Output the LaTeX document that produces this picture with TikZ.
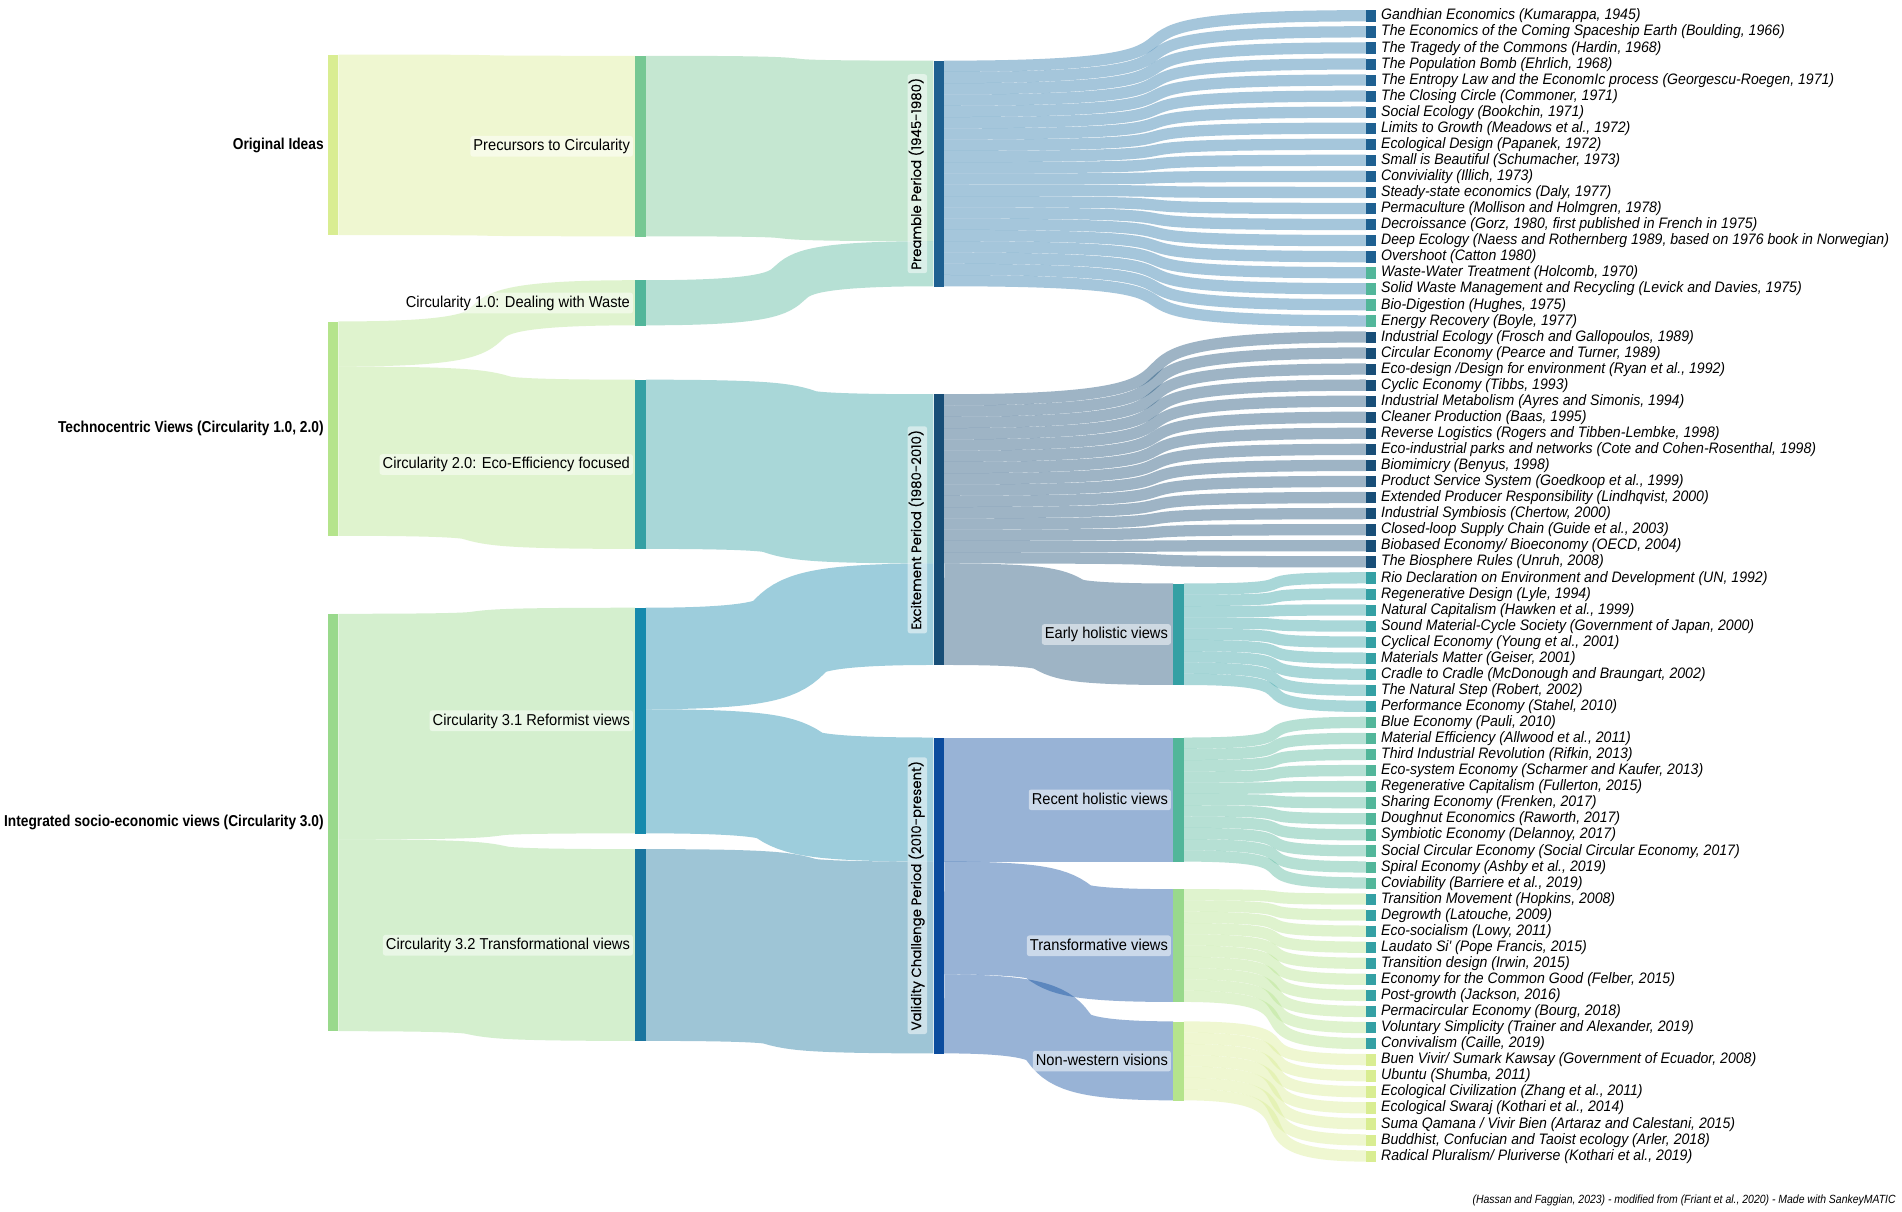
\documentclass[tikz,border=0pt]{standalone}
\usepackage{fontspec}
\setmainfont{Liberation Sans}
\newfontfamily\labfont[FakeStretch=0.93]{Liberation Sans}
\newfontfamily\boldlabfont[FakeStretch=0.87]{Liberation Sans}
\newfontfamily\itemfont[FakeStretch=0.93]{Liberation Sans}
\newfontfamily\footfont[FakeStretch=0.88]{Liberation Sans}
\newfontfamily\rotfont[FakeBold=0.25]{Poppins}
\usetikzlibrary{calc}
\pgfdeclarelayer{bg}
\pgfdeclarelayer{flows}
\pgfsetlayers{bg,flows,main}
\definecolor{cA}{HTML}{D9ED92}
\definecolor{cB}{HTML}{B5E48C}
\definecolor{cC}{HTML}{99D98C}
\definecolor{cD}{HTML}{76C893}
\definecolor{cE}{HTML}{52B69A}
\definecolor{cF}{HTML}{34A0A4}
\definecolor{cG}{HTML}{168AAD}
\definecolor{cH}{HTML}{1A759F}
\definecolor{cI}{HTML}{1E6091}
\definecolor{cJ}{HTML}{184E77}
\definecolor{cV}{HTML}{0B4C9E}
\definecolor{preflow}{HTML}{2A78AB}
\def\sku{9.3}
\tikzset{
  bar/.style={rectangle, inner sep=0pt, minimum width=8.5pt, anchor=north west, draw=none},
  flowline/.style={draw opacity=0.42},
  lab/.style={font=\labfont\fontsize{13}{15}\selectfont, inner xsep=2.5pt, inner ysep=2.5pt,
    text height=9.5pt, text depth=2.5pt, rounded corners=2pt, fill=white, fill opacity=0.5,
    text opacity=1, anchor=east},
  blab/.style={font=\boldlabfont\bfseries\fontsize{13}{15}\selectfont, inner xsep=2pt, anchor=east},
  rlab/.style={font=\rotfont\fontsize{11}{13}\selectfont, rotate=90, inner xsep=3pt, inner ysep=2.5pt,
    text height=8.5pt, text depth=2.5pt, rounded corners=2pt, fill=white, fill opacity=0.5,
    text opacity=1, anchor=south},
  itlab/.style={font=\itemfont\itshape\fontsize{12.5}{14}\selectfont, inner sep=1.5pt, anchor=west},
}
% #1 source node, #2 offset below its top (units), #3 target node, #4 offset (units),
% #5 width (units), #6 colour, #7 horizontal control distance
\newcommand\skflow[7]{%
  \draw[flowline, draw=#6, line width={(#5)*\sku*1pt}]
    ([yshift={-((#2)+(#5)/2)*\sku*1pt}]#1.north east) .. controls +(#7,0) and +(-#7,0) ..
    ([yshift={-((#4)+(#5)/2)*\sku*1pt}]#3.north west);
}
\newcommand\ritem[3]{%
  \node[bar, fill=#2, minimum height=9.3pt] (r#1) at (1126, {8.35+(#1-1)*13.239}) {};
  \node[itlab] (t#1) at ([xshift=2pt]r#1.east) {#3};
}
\begin{document}
\begin{tikzpicture}[x=1pt,y=-1pt]
\begin{pgfonlayer}{bg}
\fill[white] (0,0) rectangle (1568,999);
\end{pgfonlayer}
\useasboundingbox (0,0) rectangle (1568,999);
% column 0
\node[bar, fill=cA, minimum height=148.8pt] (orig) at (270,45) {};
\node[bar, fill=cB, minimum height=176.7pt] (tech) at (270,265) {};
\node[bar, fill=cC, minimum height=344.1pt] (integ) at (270,506) {};
% column 1
\node[bar, fill=cD, minimum height=148.8pt] (prec) at (523.5,46) {};
\node[bar, fill=cE, minimum height=37.2pt] (cone) at (523.5,231) {};
\node[bar, fill=cF, minimum height=139.5pt] (ctwo) at (523.5,313) {};
\node[bar, fill=cG, minimum height=186pt] (cthreeone) at (523.5,501) {};
\node[bar, fill=cH, minimum height=158.1pt] (cthreetwo) at (523.5,700) {};
% column 2
\node[bar, fill=cI, minimum height=186pt] (pre) at (769.5,50) {};
\node[bar, fill=cJ, minimum height=223.2pt] (exc) at (769.5,325) {};
\node[bar, fill=cV, minimum height=260.4pt] (val) at (769.5,608) {};
% column 3
\node[bar, fill=cF, minimum height=83.7pt] (early) at (967,481) {};
\node[bar, fill=cE, minimum height=102.3pt] (recent) at (967,608) {};
\node[bar, fill=cC, minimum height=93pt] (transf) at (967,733) {};
\node[bar, fill=cB, minimum height=65.1pt] (nonw) at (967,842) {};
% right items
\ritem{1}{cI}{Gandhian Economics (Kumarappa, 1945)}
\ritem{2}{cI}{The Economics of the Coming Spaceship Earth (Boulding, 1966)}
\ritem{3}{cI}{The Tragedy of the Commons (Hardin, 1968)}
\ritem{4}{cI}{The Population Bomb (Ehrlich, 1968)}
\ritem{5}{cI}{The Entropy Law and the EconomIc process (Georgescu-Roegen, 1971)}
\ritem{6}{cI}{The Closing Circle (Commoner, 1971)}
\ritem{7}{cI}{Social Ecology (Bookchin, 1971)}
\ritem{8}{cI}{Limits to Growth (Meadows et al., 1972)}
\ritem{9}{cI}{Ecological Design (Papanek, 1972)}
\ritem{10}{cI}{Small is Beautiful (Schumacher, 1973)}
\ritem{11}{cI}{Conviviality (Illich, 1973)}
\ritem{12}{cI}{Steady-state economics (Daly, 1977)}
\ritem{13}{cI}{Permaculture (Mollison and Holmgren, 1978)}
\ritem{14}{cI}{Decroissance (Gorz, 1980, first published in French in 1975)}
\ritem{15}{cI}{Deep Ecology (Naess and Rothernberg 1989, based on 1976 book in Norwegian)}
\ritem{16}{cI}{Overshoot (Catton 1980)}
\ritem{17}{cE}{Waste-Water Treatment (Holcomb, 1970)}
\ritem{18}{cE}{Solid Waste Management and Recycling (Levick and Davies, 1975)}
\ritem{19}{cE}{Bio-Digestion (Hughes, 1975)}
\ritem{20}{cE}{Energy Recovery (Boyle, 1977)}
\ritem{21}{cJ}{Industrial Ecology (Frosch and Gallopoulos, 1989)}
\ritem{22}{cJ}{Circular Economy (Pearce and Turner, 1989)}
\ritem{23}{cJ}{Eco-design /Design for environment (Ryan et al., 1992)}
\ritem{24}{cJ}{Cyclic Economy (Tibbs, 1993)}
\ritem{25}{cJ}{Industrial Metabolism (Ayres and Simonis, 1994)}
\ritem{26}{cJ}{Cleaner Production (Baas, 1995)}
\ritem{27}{cJ}{Reverse Logistics (Rogers and Tibben-Lembke, 1998)}
\ritem{28}{cJ}{Eco-industrial parks and networks (Cote and Cohen-Rosenthal, 1998)}
\ritem{29}{cJ}{Biomimicry (Benyus, 1998)}
\ritem{30}{cJ}{Product Service System (Goedkoop et al., 1999)}
\ritem{31}{cJ}{Extended Producer Responsibility (Lindhqvist, 2000)}
\ritem{32}{cJ}{Industrial Symbiosis (Chertow, 2000)}
\ritem{33}{cJ}{Closed-loop Supply Chain (Guide et al., 2003)}
\ritem{34}{cJ}{Biobased Economy/ Bioeconomy (OECD, 2004)}
\ritem{35}{cJ}{The Biosphere Rules (Unruh, 2008)}
\ritem{36}{cF}{Rio Declaration on Environment and Development (UN, 1992)}
\ritem{37}{cF}{Regenerative Design (Lyle, 1994)}
\ritem{38}{cF}{Natural Capitalism (Hawken et al., 1999)}
\ritem{39}{cF}{Sound Material-Cycle Society (Government of Japan, 2000)}
\ritem{40}{cF}{Cyclical Economy (Young et al., 2001)}
\ritem{41}{cF}{Materials Matter (Geiser, 2001)}
\ritem{42}{cF}{Cradle to Cradle (McDonough and Braungart, 2002)}
\ritem{43}{cF}{The Natural Step (Robert, 2002)}
\ritem{44}{cF}{Performance Economy (Stahel, 2010)}
\ritem{45}{cE}{Blue Economy (Pauli, 2010)}
\ritem{46}{cE}{Material Efficiency (Allwood et al., 2011)}
\ritem{47}{cE}{Third Industrial Revolution (Rifkin, 2013)}
\ritem{48}{cE}{Eco-system Economy (Scharmer and Kaufer, 2013)}
\ritem{49}{cE}{Regenerative Capitalism (Fullerton, 2015)}
\ritem{50}{cE}{Sharing Economy (Frenken, 2017)}
\ritem{51}{cE}{Doughnut Economics (Raworth, 2017)}
\ritem{52}{cE}{Symbiotic Economy (Delannoy, 2017)}
\ritem{53}{cE}{Social Circular Economy (Social Circular Economy, 2017)}
\ritem{54}{cE}{Spiral Economy (Ashby et al., 2019)}
\ritem{55}{cE}{Coviability (Barriere et al., 2019)}
\ritem{56}{cF}{Transition Movement (Hopkins, 2008)}
\ritem{57}{cF}{Degrowth (Latouche, 2009)}
\ritem{58}{cF}{Eco-socialism (Lowy, 2011)}
\ritem{59}{cF}{Laudato Si' (Pope Francis, 2015)}
\ritem{60}{cF}{Transition design (Irwin, 2015)}
\ritem{61}{cF}{Economy for the Common Good (Felber, 2015)}
\ritem{62}{cF}{Post-growth (Jackson, 2016)}
\ritem{63}{cF}{Permacircular Economy (Bourg, 2018)}
\ritem{64}{cF}{Voluntary Simplicity (Trainer and Alexander, 2019)}
\ritem{65}{cF}{Convivalism (Caille, 2019)}
\ritem{66}{cA}{Buen Vivir/ Sumark Kawsay (Government of Ecuador, 2008)}
\ritem{67}{cA}{Ubuntu (Shumba, 2011)}
\ritem{68}{cA}{Ecological Civilization (Zhang et al., 2011)}
\ritem{69}{cA}{Ecological Swaraj (Kothari et al., 2014)}
\ritem{70}{cA}{Suma Qamana / Vivir Bien (Artaraz and Calestani, 2015)}
\ritem{71}{cA}{Buddhist, Confucian and Taoist ecology (Arler, 2018)}
\ritem{72}{cA}{Radical Pluralism/ Pluriverse (Kothari et al., 2019)}
% flows
\begin{pgfonlayer}{flows}
\skflow{orig}{0}{prec}{0}{16}{cA}{208}
\skflow{tech}{0}{cone}{0}{4}{cB}{208}
\skflow{tech}{4}{ctwo}{0}{15}{cB}{208}
\skflow{integ}{0}{cthreeone}{0}{20}{cC}{208}
\skflow{integ}{20}{cthreetwo}{0}{17}{cC}{208}
\skflow{prec}{0}{pre}{0}{16}{cD}{202}
\skflow{cone}{0}{pre}{16}{4}{cE}{202}
\skflow{ctwo}{0}{exc}{0}{15}{cF}{202}
\skflow{cthreeone}{0}{exc}{15}{9}{cG}{202}
\skflow{cthreeone}{9}{val}{0}{11}{cG}{202}
\skflow{cthreetwo}{0}{val}{11}{17}{cH}{202}
\foreach \k in {1,...,20} {\skflow{pre}{\k-1}{r\k}{0}{1}{preflow}{296}}
\foreach \k in {21,...,35} {\skflow{exc}{\k-21}{r\k}{0}{1}{cJ}{296}}
\skflow{exc}{15}{early}{0}{9}{cJ}{160}
\skflow{val}{0}{recent}{0}{11}{cV}{160}
\skflow{val}{11}{transf}{0}{10}{cV}{160}
\skflow{val}{21}{nonw}{0}{7}{cV}{160}
\foreach \k in {36,...,44} {\skflow{early}{\k-36}{r\k}{0}{1}{cF}{128}}
\foreach \k in {45,...,55} {\skflow{recent}{\k-45}{r\k}{0}{1}{cE}{128}}
\foreach \k in {56,...,65} {\skflow{transf}{\k-56}{r\k}{0}{1}{cB}{128}}
\foreach \k in {66,...,72} {\skflow{nonw}{\k-66}{r\k}{0}{1}{cA}{128}}
\end{pgfonlayer}
% labels
\node[blab] (lorig) at ([xshift=-1pt]orig.west) {Original Ideas};
\node[blab] (ltech) at ([xshift=-1pt]tech.west) {Technocentric Views (Circularity 1.0, 2.0)};
\node[blab] (linteg) at ([xshift=-1pt]integ.west) {Integrated socio-economic views (Circularity 3.0)};
\node[lab] (lprec) at ([xshift=-1.5pt]prec.west) {Precursors to Circularity};
\node[lab] (lcone) at ([xshift=-1.5pt]cone.west) {Circularity 1.0: Dealing with Waste};
\node[lab] (lctwo) at ([xshift=-1.5pt]ctwo.west) {Circularity 2.0: Eco-Efficiency focused};
\node[lab] (lcthreeone) at ([xshift=-1.5pt]cthreeone.west) {Circularity 3.1 Reformist views};
\node[lab] (lcthreetwo) at ([xshift=-1.5pt]cthreetwo.west) {Circularity 3.2 Transformational views};
\node[rlab] (lpre) at ([xshift=-5pt]pre.west) {Preamble Period (1945-1980)};
\node[rlab] (lexc) at ([xshift=-5pt]exc.west) {Excitement Period (1980-2010)};
\node[rlab] (lval) at ([xshift=-5pt]val.west) {Validity Challenge Period (2010-present)};
\node[lab] (learly) at ([xshift=-1.5pt]early.west) {Early holistic views};
\node[lab] (lrecent) at ([xshift=-1.5pt]recent.west) {Recent holistic views};
\node[lab] (ltransf) at ([xshift=-1.5pt]transf.west) {Transformative views};
\node[lab] (lnonw) at ([xshift=-1.5pt]nonw.west) {Non-western visions};
\node[font=\footfont\itshape\fontsize{9.8}{11}\selectfont, anchor=east, inner sep=0pt] (foot) at (1563,990)
  {(Hassan and Faggian, 2023) - modified from (Friant et al., 2020) - Made with SankeyMATIC};
\end{tikzpicture}
\end{document}
